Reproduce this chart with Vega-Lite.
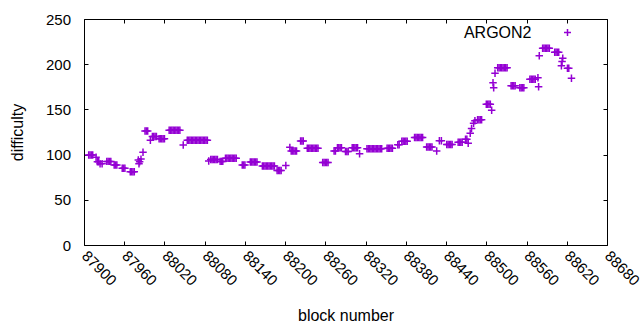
{
"$schema": "https://vega.github.io/schema/vega-lite/v6.json",
"width": 523, "height": 226,
"autosize": {"type": "none"},
"padding": {"left": 84, "top": 19, "right": 33, "bottom": 85},
"background": "white",
"config": {"view": {"stroke": "#000000", "strokeWidth": 1}, "font": "Liberation Sans",
 "axis": {"grid": false, "domain": false, "tickColor": "#000", "labelColor": "#000", "titleColor": "#000", "labelFontSize": 15, "titleFontSize": 16, "titleFontWeight": "normal", "tickSize": -4}},
"data": {"values": [
{"block":87907,"difficulty":99.5},{"block":87909,"difficulty":99.5},{"block":87911,"difficulty":99.5},{"block":87913,"difficulty":99.5},
{"block":87918,"difficulty":97},
{"block":87920,"difficulty":92},{"block":87922,"difficulty":92},
{"block":87924,"difficulty":90},{"block":87927,"difficulty":90},
{"block":87934,"difficulty":92.5},{"block":87936,"difficulty":92.5},{"block":87938,"difficulty":92.5},{"block":87940,"difficulty":92.5},
{"block":87945,"difficulty":88.5},{"block":87947,"difficulty":88.5},{"block":87949,"difficulty":88.5},
{"block":87957,"difficulty":85},{"block":87959,"difficulty":85},{"block":87961,"difficulty":85},
{"block":87969,"difficulty":81},{"block":87971,"difficulty":81},{"block":87973,"difficulty":81},{"block":87975,"difficulty":81},
{"block":87981,"difficulty":94},{"block":87983,"difficulty":92},{"block":87985,"difficulty":95},{"block":87982,"difficulty":90},{"block":87988,"difficulty":102.5},
{"block":87991,"difficulty":126},{"block":87993,"difficulty":126},{"block":87995,"difficulty":126},
{"block":87999,"difficulty":116},
{"block":88002,"difficulty":120},{"block":88004,"difficulty":120},{"block":88006,"difficulty":120},{"block":88008,"difficulty":120},
{"block":88012,"difficulty":117.5},{"block":88014,"difficulty":117.5},{"block":88016,"difficulty":117.5},{"block":88018,"difficulty":117.5},{"block":88020,"difficulty":117.5},
{"block":88027,"difficulty":127},{"block":88029,"difficulty":127},{"block":88031,"difficulty":127},{"block":88033,"difficulty":127},{"block":88035,"difficulty":127},{"block":88037,"difficulty":127},{"block":88039,"difficulty":127},{"block":88041,"difficulty":127},{"block":88043,"difficulty":127},
{"block":88048,"difficulty":110.6},
{"block":88054,"difficulty":116},{"block":88056,"difficulty":116},{"block":88058,"difficulty":116},{"block":88060,"difficulty":116},{"block":88062,"difficulty":116},{"block":88064,"difficulty":116},{"block":88066,"difficulty":116},{"block":88068,"difficulty":116},{"block":88070,"difficulty":116},{"block":88072,"difficulty":116},{"block":88074,"difficulty":116},{"block":88076,"difficulty":116},{"block":88078,"difficulty":116},{"block":88080,"difficulty":116},{"block":88082,"difficulty":116},{"block":88084,"difficulty":116},
{"block":88086,"difficulty":93},
{"block":88089,"difficulty":94.5},{"block":88091,"difficulty":94.5},{"block":88093,"difficulty":94.5},{"block":88095,"difficulty":94.5},{"block":88097,"difficulty":94.5},{"block":88099,"difficulty":94.5},
{"block":88103,"difficulty":92.5},{"block":88105,"difficulty":92.5},{"block":88107,"difficulty":92.5},
{"block":88111,"difficulty":96},{"block":88113,"difficulty":96},{"block":88115,"difficulty":96},{"block":88117,"difficulty":96},{"block":88119,"difficulty":96},{"block":88121,"difficulty":96},{"block":88123,"difficulty":96},{"block":88125,"difficulty":96},{"block":88127,"difficulty":96},
{"block":88136,"difficulty":88.5},{"block":88138,"difficulty":88.5},{"block":88140,"difficulty":88.5},
{"block":88148,"difficulty":91.8},{"block":88150,"difficulty":91.8},{"block":88152,"difficulty":91.8},{"block":88154,"difficulty":91.8},{"block":88156,"difficulty":91.8},{"block":88158,"difficulty":91.8},
{"block":88166,"difficulty":87.4},{"block":88168,"difficulty":87.4},{"block":88170,"difficulty":87.4},{"block":88172,"difficulty":87.4},{"block":88174,"difficulty":87.4},{"block":88176,"difficulty":87.4},{"block":88178,"difficulty":87.4},{"block":88180,"difficulty":87.4},{"block":88182,"difficulty":87.4},{"block":88184,"difficulty":87.4},
{"block":88188,"difficulty":82.4},{"block":88190,"difficulty":82.4},{"block":88192,"difficulty":82.4},{"block":88194,"difficulty":82.4},
{"block":88201,"difficulty":88},
{"block":88207,"difficulty":108},
{"block":88209,"difficulty":104},{"block":88211,"difficulty":104},{"block":88213,"difficulty":104},{"block":88215,"difficulty":104},{"block":88217,"difficulty":104},
{"block":88223,"difficulty":115},{"block":88225,"difficulty":115},{"block":88227,"difficulty":115},
{"block":88233,"difficulty":107},{"block":88235,"difficulty":107},{"block":88237,"difficulty":107},{"block":88239,"difficulty":107},{"block":88241,"difficulty":107},{"block":88243,"difficulty":107},{"block":88245,"difficulty":107},{"block":88247,"difficulty":107},{"block":88249,"difficulty":107},
{"block":88256,"difficulty":91.3},{"block":88258,"difficulty":91.3},{"block":88260,"difficulty":91.3},{"block":88262,"difficulty":91.3},{"block":88264,"difficulty":91.3},
{"block":88273,"difficulty":104},{"block":88275,"difficulty":104},
{"block":88278,"difficulty":107.7},{"block":88280,"difficulty":107.7},{"block":88282,"difficulty":107.7},{"block":88284,"difficulty":107.7},
{"block":88290,"difficulty":103.4},{"block":88292,"difficulty":103.4},{"block":88294,"difficulty":103.4},
{"block":88300,"difficulty":107.6},{"block":88302,"difficulty":107.6},{"block":88304,"difficulty":107.6},{"block":88306,"difficulty":107.6},{"block":88308,"difficulty":107.6},
{"block":88311,"difficulty":101},
{"block":88322,"difficulty":106.5},{"block":88324,"difficulty":106.5},{"block":88326,"difficulty":106.5},{"block":88328,"difficulty":106.5},{"block":88330,"difficulty":106.5},{"block":88332,"difficulty":106.5},{"block":88334,"difficulty":106.5},{"block":88336,"difficulty":106.5},{"block":88338,"difficulty":106.5},{"block":88340,"difficulty":106.5},{"block":88342,"difficulty":106.5},{"block":88344,"difficulty":106.5},
{"block":88352,"difficulty":107},{"block":88354,"difficulty":107},{"block":88356,"difficulty":107},{"block":88358,"difficulty":107},{"block":88360,"difficulty":107},
{"block":88368,"difficulty":111},{"block":88370,"difficulty":111},
{"block":88374,"difficulty":114.7},{"block":88376,"difficulty":114.7},{"block":88378,"difficulty":114.7},{"block":88380,"difficulty":114.7},{"block":88382,"difficulty":114.7},
{"block":88393,"difficulty":119},{"block":88395,"difficulty":119},{"block":88397,"difficulty":119},{"block":88399,"difficulty":119},{"block":88401,"difficulty":119},{"block":88403,"difficulty":119},{"block":88405,"difficulty":119},
{"block":88411,"difficulty":108.4},{"block":88413,"difficulty":108.4},{"block":88415,"difficulty":108.4},{"block":88417,"difficulty":108.4},{"block":88419,"difficulty":108.4},
{"block":88426,"difficulty":104},
{"block":88430,"difficulty":115.3},{"block":88433,"difficulty":115.3},
{"block":88441,"difficulty":111.2},{"block":88443,"difficulty":111.2},{"block":88445,"difficulty":111.2},{"block":88447,"difficulty":111.2},{"block":88449,"difficulty":111.2},
{"block":88458,"difficulty":113.6},{"block":88460,"difficulty":113.6},{"block":88462,"difficulty":113.6},{"block":88464,"difficulty":113.6},
{"block":88469,"difficulty":117},{"block":88471,"difficulty":117},
{"block":88473,"difficulty":112.5},
{"block":88476,"difficulty":123.5},{"block":88478,"difficulty":129},{"block":88481,"difficulty":134.6},{"block":88483,"difficulty":137.5},
{"block":88487,"difficulty":138.6},{"block":88489,"difficulty":138.6},{"block":88491,"difficulty":138.6},{"block":88493,"difficulty":138.6},
{"block":88500,"difficulty":155.6},{"block":88502,"difficulty":155.6},{"block":88504,"difficulty":155.6},{"block":88506,"difficulty":155.6},
{"block":88508,"difficulty":149},
{"block":88510,"difficulty":179.5},{"block":88511,"difficulty":174},{"block":88513,"difficulty":190},
{"block":88517,"difficulty":196.1},{"block":88519,"difficulty":196.1},{"block":88521,"difficulty":196.1},{"block":88523,"difficulty":196.1},{"block":88525,"difficulty":196.1},{"block":88527,"difficulty":196.1},{"block":88529,"difficulty":196.1},{"block":88531,"difficulty":196.1},
{"block":88537,"difficulty":176.2},{"block":88539,"difficulty":176.2},{"block":88541,"difficulty":176.2},{"block":88543,"difficulty":176.2},
{"block":88550,"difficulty":174},{"block":88552,"difficulty":174},{"block":88554,"difficulty":174},{"block":88556,"difficulty":174},
{"block":88565,"difficulty":183.3},{"block":88567,"difficulty":183.3},{"block":88569,"difficulty":183.3},{"block":88571,"difficulty":183.3},{"block":88573,"difficulty":183.3},
{"block":88577,"difficulty":185},{"block":88578,"difficulty":175},{"block":88579,"difficulty":209.4},
{"block":88584,"difficulty":217.6},{"block":88586,"difficulty":217.6},{"block":88588,"difficulty":217.6},{"block":88590,"difficulty":217.6},{"block":88592,"difficulty":217.6},{"block":88594,"difficulty":217.6},
{"block":88602,"difficulty":213.2},{"block":88604,"difficulty":213.2},{"block":88606,"difficulty":213.2},{"block":88608,"difficulty":213.2},
{"block":88612,"difficulty":198.3},{"block":88613,"difficulty":203},{"block":88614,"difficulty":206.5},
{"block":88621,"difficulty":195.5},{"block":88623,"difficulty":195.5},
{"block":88627,"difficulty":184.4}
]},
"layer": [
 {"mark": {"type": "point", "shape": "M-1,0H1M0,-1V1", "filled": false, "size": 56, "strokeWidth": 1.5, "opacity": 1},
  "encoding": {
   "x": {"field": "block", "type": "quantitative", "scale": {"domain": [87900, 88680], "nice": false, "zero": false},
         "axis": {"orient": "bottom", "values": [87900,87960,88020,88080,88140,88200,88260,88320,88380,88440,88500,88560,88620,88680], "format": "d", "labelAngle": 45, "labelAlign": "left", "labelBaseline": "middle", "labelPadding": 12, "labelOverlap": false, "labelFlush": false, "title": "block number", "titleX": 261.5, "titleY": 70, "titleBaseline": "middle"}},
   "y": {"field": "difficulty", "type": "quantitative", "scale": {"domain": [0, 250], "nice": false},
         "axis": {"orient": "left", "values": [0,50,100,150,200,250], "labelPadding": 17.5, "labelFlush": false, "title": "difficulty", "titleX": -67, "titleY": 113, "titleBaseline": "middle", "titleAngle": -90}},
   "color": {"datum": "ARGON2", "type": "nominal", "scale": {"range": ["#9400d3"]},
     "legend": {"title": null, "orient": "none", "legendX": 475.5, "legendY": 5.5, "padding": 0, "symbolType": "M-1,0H1M0,-1V1", "symbolSize": 49, "symbolStrokeWidth": 1.5, "labelAlign": "right", "labelOffset": -44, "labelFontSize": 16, "labelColor": "#000"}}
  }},
 {"mark": {"type": "point", "opacity": 0},
  "encoding": {
   "x": {"field": "block", "type": "quantitative", "axis": {"orient": "top", "values": [87900,87960,88020,88080,88140,88200,88260,88320,88380,88440,88500,88560,88620,88680], "labels": false, "title": null}},
   "y": {"field": "difficulty", "type": "quantitative", "axis": {"orient": "right", "values": [0,50,100,150,200,250], "labels": false, "title": null}}
  }}
],
"resolve": {"axis": {"x": "independent", "y": "independent"}}
}
